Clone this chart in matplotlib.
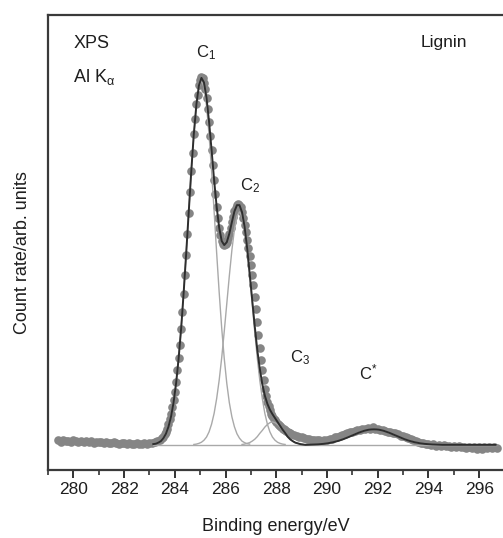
#!/usr/bin/env python3
"""
xps_c1s_lignin.py — C 1s XPS spectrum of lignin with fitted components.
"""

import numpy as np
import matplotlib
matplotlib.use('Agg')
import matplotlib.pyplot as plt
from matplotlib.ticker import MultipleLocator

plt.rcParams['font.family'] = ['Liberation Sans', 'DejaVu Sans']
plt.rcParams['mathtext.fontset'] = 'custom'
plt.rcParams['mathtext.rm'] = 'Liberation Sans'
plt.rcParams['mathtext.it'] = 'Liberation Sans:italic'
plt.rcParams['mathtext.default'] = 'regular'

# --- measured points (arb. units, baseline = 0) ---
# flat region before the peak, 0.1 eV steps
DATA_LOW_START = 279.4
DATA_LOW_STEP = 0.1
DATA_LOW = [
    1.2, 0.9, 1.3, 1.0, 1.1, 0.8, 1.2, 1.0, 0.9, 1.1,
    0.7, 1.0, 0.8, 1.1, 0.6, 0.9, 0.7, 0.8, 0.5, 0.8,
    0.6, 0.4, 0.7, 0.5, 0.3, 0.6, 0.4, 0.2, 0.5, 0.3,
    0.1, 0.4, 0.2, 0.3, 0.4, 0.3, 0.5, 0.6, 0.8, 1.1,
    1.4, 1.9,
]

# main C 1s envelope, 0.05 eV steps
DATA_PEAK_START = 283.55
DATA_PEAK_STEP = 0.05
DATA_PEAK = [
    2.2, 2.8, 3.6, 4.4, 5.6, 6.9, 8.4, 10.1, 12.0, 14.3,
    16.9, 20.1, 23.4, 27.0, 31.3, 35.8, 40.9, 46.0, 51.2, 57.0,
    62.6, 68.3, 73.9, 79.0, 84.1, 88.0, 92.1, 94.7, 97.2, 98.6,
    99.4, 99.1, 97.9, 96.2, 93.8, 90.9, 87.4, 83.6, 79.7, 75.6,
    71.6, 67.9, 64.4, 61.3, 58.7, 56.7, 55.1, 54.3, 54.0, 54.2,
    54.8, 55.8, 57.1, 58.7, 60.2, 61.7, 63.1, 64.0, 64.8, 65.0,
    64.9, 64.2, 62.9, 61.2, 59.5, 57.5, 55.3, 53.2, 51.0, 48.6,
    46.0, 43.2, 40.0, 36.6, 33.1, 29.6, 26.2, 23.0, 20.1, 17.5,
    15.2, 13.3, 11.7, 10.4, 9.3, 8.4, 7.7, 7.1, 6.6, 6.1,
    5.7, 5.3, 5.0, 4.7, 4.4, 4.2, 3.9, 3.7, 3.5, 3.3,
    3.1, 2.9,
]

# shake-up region and tail, 0.1 eV steps
DATA_HIGH_START = 288.7
DATA_HIGH_STEP = 0.1
DATA_HIGH = [
    2.7, 2.4, 2.2, 2.0, 1.8, 1.5, 1.6, 1.3, 1.4, 1.2,
    1.3, 1.1, 1.4, 1.3, 1.6, 1.7, 2.0, 2.2, 2.4, 2.7,
    2.9, 3.2, 3.4, 3.6, 3.8, 4.0, 4.1, 4.3, 4.2, 4.5,
    4.4, 4.7, 4.4, 4.3, 4.0, 4.1, 3.7, 3.6, 3.4, 3.1,
    3.2, 2.8, 2.5, 2.4, 2.0, 1.9, 1.5, 1.4, 1.0, 0.9,
    0.6, 0.5, 0.2, 0.3, 0.0, 0.1, -0.2, 0.0, -0.3, -0.1,
    -0.4, -0.2, -0.5, -0.3, -0.6, -0.4, -0.7, -0.5, -0.8, -0.6,
    -0.9, -0.5, -1.0, -0.7, -1.1, -0.6, -0.8, -0.5, -0.9, -0.6,
    -0.8,
]

# --- fitted components on a 0.1 eV grid ---
FIT_START = 283.15
FIT_END = 296.65
FIT_STEP = 0.1
BASELINE_LEVEL = 0.0

C1_START = 283.15
C1 = [0.2, 0.3, 0.6, 1.0, 1.8, 3.0, 4.9, 7.6, 11.4, 16.6,
      23.3, 31.5, 41.2, 51.9, 63.1, 74.1, 83.9, 91.7, 96.7, 98.5,
      96.7, 91.7, 83.9, 74.1, 63.1, 51.9, 41.2, 31.5, 23.3, 16.6,
      11.4, 7.6, 4.9, 3.0, 1.8, 1.0, 0.6, 0.3, 0.2]

C2_START = 284.75
C2 = [0.1, 0.2, 0.4, 0.7, 1.25, 2.1, 3.5, 5.6, 8.5, 12.5,
      17.5, 23.6, 30.7, 38.2, 45.7, 52.6, 58.2, 61.8, 63.0, 61.8,
      58.2, 52.6, 45.7, 38.2, 30.7, 23.6, 17.5, 12.5, 8.5, 5.6,
      3.5, 2.1, 1.25, 0.7, 0.4, 0.2, 0.1]

C3_START = 286.65
C3 = [0.1, 0.2, 0.4, 0.6, 1.0, 1.5, 2.2, 3.1, 3.9, 4.8,
      5.5, 6.0, 6.2, 6.0, 5.5, 4.8, 3.9, 3.1, 2.2, 1.5,
      1.0, 0.6, 0.4, 0.2, 0.1]

CSTAR_START = 289.25
CSTAR = [0.04, 0.06, 0.08, 0.11, 0.15, 0.20, 0.26, 0.35, 0.45, 0.57,
         0.72, 0.89, 1.08, 1.31, 1.55, 1.82, 2.10, 2.40, 2.70, 2.99,
         3.28, 3.53, 3.76, 3.95, 4.09, 4.17, 4.20, 4.17, 4.09, 3.95,
         3.76, 3.53, 3.28, 2.99, 2.70, 2.40, 2.10, 1.82, 1.55, 1.31,
         1.08, 0.89, 0.72, 0.57, 0.45, 0.35, 0.26, 0.20, 0.15, 0.11,
         0.08, 0.06, 0.04]

LABELS = [
    # text, energy, height
    ('C$_1$', 284.84, 104.9),
    ('C$_2$', 286.57, 68.9),
    ('C$_3$', 288.54, 22.2),
    ('C$^{*}$', 291.26, 17.6),
]

MARKER_COLOR = '#858585'
FIT_COLOR = '#2e2e2e'
COMP_COLOR = '#a9a9a9'
TEXT_COLOR = '#1e1e1e'


def energies(start, step, n):
    return np.round(start + step * np.arange(n), 3)


def main():
    data_e = np.concatenate([
        energies(DATA_LOW_START, DATA_LOW_STEP, len(DATA_LOW)),
        energies(DATA_PEAK_START, DATA_PEAK_STEP, len(DATA_PEAK)),
        energies(DATA_HIGH_START, DATA_HIGH_STEP, len(DATA_HIGH)),
    ])
    data_c = np.array(DATA_LOW + DATA_PEAK + DATA_HIGH)

    n_fit = int(round((FIT_END - FIT_START) / FIT_STEP)) + 1
    fit_e = energies(FIT_START, FIT_STEP, n_fit)
    baseline = np.full(n_fit, BASELINE_LEVEL)
    envelope = baseline.copy()

    comps = []
    for start, vals in ((C1_START, C1), (C2_START, C2),
                        (C3_START, C3), (CSTAR_START, CSTAR)):
        i0 = int(round((start - FIT_START) / FIT_STEP))
        full = np.zeros(n_fit)
        full[i0:i0 + len(vals)] = vals
        envelope = envelope + full
        comps.append((energies(start, FIT_STEP, len(vals)),
                      np.array(vals) + BASELINE_LEVEL))

    fig = plt.figure(figsize=(5.03, 5.38), dpi=100)
    ax = fig.add_axes([48 / 503, 68 / 538, 456.5 / 503, 455 / 538])

    ax.plot(data_e, data_c, 'o', ms=6.2, color=MARKER_COLOR, mec='none',
            zorder=2)
    ax.plot(fit_e, baseline, color=COMP_COLOR, lw=1.0, zorder=3)
    for e, c in comps:
        ax.plot(e, c, color=COMP_COLOR, lw=1.0, zorder=3)
    ax.plot(fit_e, envelope, color=FIT_COLOR, lw=1.4, zorder=4)

    ax.set_xlim(279.0, 297.0)
    ax.set_ylim(-6.8, 116.2)

    ax.xaxis.set_major_locator(MultipleLocator(2))
    ax.xaxis.set_minor_locator(MultipleLocator(1))
    ax.tick_params(axis='x', which='major', direction='out', length=6,
                   width=1.4, color='#333333', labelsize=12.5,
                   labelcolor=TEXT_COLOR, pad=3)
    ax.tick_params(axis='x', which='minor', direction='out', length=3.5,
                   width=1.2, color='#333333')
    ax.set_yticks([])

    for side in ('left', 'top', 'bottom'):
        ax.spines[side].set_linewidth(1.6)
        ax.spines[side].set_color('#3a3a3a')
    ax.spines['right'].set_visible(False)

    ax.set_xlabel('Binding energy/eV', fontsize=13, color=TEXT_COLOR,
                  labelpad=15)
    ax.set_ylabel('Count rate/arb. units', fontsize=13, color=TEXT_COLOR)
    ax.yaxis.set_label_coords(-0.037, 0.477)

    ax.text(279.99, 107.3, 'XPS', fontsize=13, color=TEXT_COLOR,
            ha='left', va='baseline')
    ax.text(279.99, 98.1, 'Al K$_{\\alpha}$', fontsize=13, color=TEXT_COLOR,
            ha='left', va='baseline')
    ax.text(293.71, 107.6, 'Lignin', fontsize=12.5, color=TEXT_COLOR,
            ha='left', va='baseline')
    for txt, e, h in LABELS:
        ax.text(e, h, txt, fontsize=12, color=TEXT_COLOR,
                ha='left', va='baseline')

    fig.savefig('out.png', dpi=100, facecolor='white')


if __name__ == '__main__':
    main()
